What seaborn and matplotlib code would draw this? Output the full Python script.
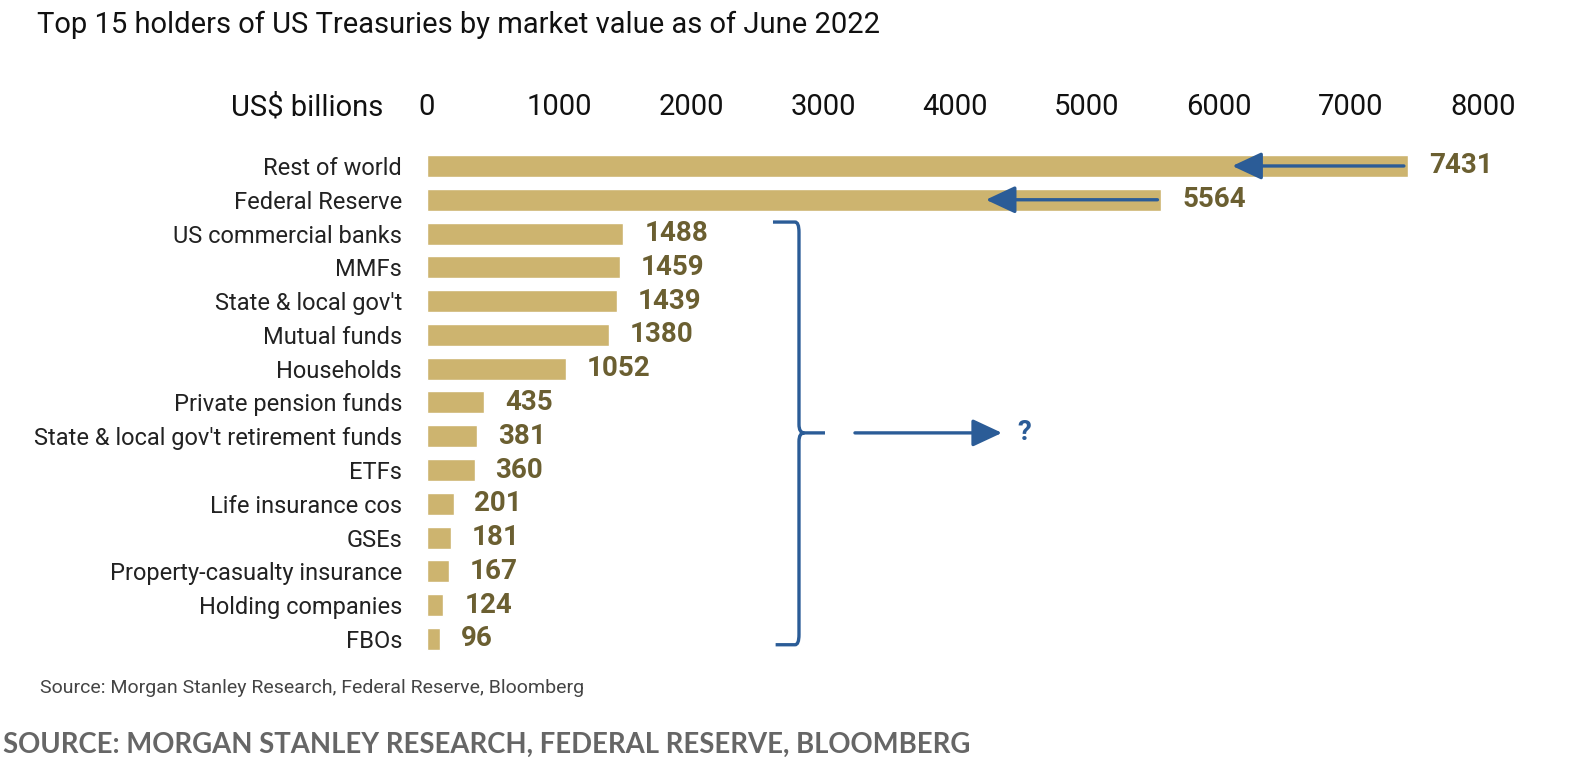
import numpy as np
import pandas as pd
import matplotlib
matplotlib.use("Agg")
import matplotlib.pyplot as plt
import seaborn as sns
from matplotlib.path import Path
from matplotlib.patches import PathPatch

holders = ["Rest of world", "Federal Reserve", "US commercial banks", "MMFs",
           "State & local gov't", "Mutual funds", "Households",
           "Private pension funds", "State & local gov't retirement funds",
           "ETFs", "Life insurance cos", "GSEs", "Property-casualty insurance",
           "Holding companies", "FBOs"]
values = [7431, 5564, 1488, 1459, 1439, 1380, 1052, 435, 381, 360, 201, 181, 167, 124, 96]
x_ticks = [0, 1000, 2000, 3000, 4000, 5000, 6000, 7000, 8000]

BAR = "#cdb46f"
VAL = "#6b5f31"
BLUE = "#2b5c97"
ARROW = "-|>,head_length=1.5,head_width=0.7"

sns.set_theme(style="white")
plt.rcParams["font.family"] = ["Roboto", "DejaVu Sans"]

df = pd.DataFrame({"holder": holders, "value": values})

fig = plt.figure(figsize=(15.84, 7.7), dpi=100)
ax = fig.add_axes([0.2696, 0.1482, 0.9362 - 0.2696, 0.8064 - 0.1482])

sns.barplot(data=df, x="value", y="holder", orient="h", color=BAR,
            saturation=1, width=0.65, ax=ax)

ax.set_xlim(0, 8000)
ax.set_ylim(len(holders) - 0.5, -0.5)
ax.xaxis.tick_top()
ax.set_xticks(x_ticks)
ax.set_xticklabels([str(t) for t in x_ticks])
ax.tick_params(axis="x", length=0, pad=20, labelsize=21, labelcolor="#111111")
ax.tick_params(axis="y", length=0, pad=18, labelsize=17, labelcolor="#222222")
ax.set_xlabel("")
ax.set_ylabel("")
for s in ax.spines.values():
    s.set_visible(False)

ax.bar_label(ax.containers[0], labels=[str(v) for v in values], padding=15,
             fontsize=20, fontweight="bold", color=VAL)

# arrows pointing back along the two largest bars
for i in range(2):
    ax.annotate("", xy=(values[i] - 1330, i), xytext=(values[i] - 30, i),
                arrowprops=dict(arrowstyle=ARROW, color=BLUE, lw=2.4,
                                shrinkA=0, shrinkB=0))

# brace around the remaining holders
bx, left, nub = 2818, 2621, 3015
top, bot, mid = 1.66, 14.17, 7.9
verts = [(left, top), (bx - 30, top), (bx, top), (bx, top + 0.3),
         (bx, mid - 0.25), (bx, mid), (bx + 40, mid), (nub, mid),
         (bx + 40, mid), (bx, mid), (bx, mid + 0.25),
         (bx, bot - 0.3), (bx, bot), (bx - 30, bot), (left + 20, bot)]
codes = [Path.MOVETO, Path.LINETO, Path.CURVE3, Path.CURVE3,
         Path.LINETO, Path.CURVE3, Path.CURVE3, Path.LINETO,
         Path.MOVETO, Path.CURVE3, Path.CURVE3,
         Path.LINETO, Path.CURVE3, Path.CURVE3, Path.LINETO]
ax.add_patch(PathPatch(Path(verts, codes), fill=False, edgecolor=BLUE, lw=2.4,
                       clip_on=False))

ax.annotate("", xy=(4356, mid), xytext=(3242, mid),
            arrowprops=dict(arrowstyle=ARROW, color=BLUE, lw=2.4,
                            shrinkA=0, shrinkB=0))
ax.text(4470, mid, "?", ha="left", va="center", fontsize=20,
        fontweight="bold", color=BLUE)

fig.text(383 / 1584, 1 - 115 / 770, "US$ billions", ha="right", va="baseline",
         fontsize=21, color="#111111")
fig.text(37 / 1584, 1 - 33 / 770, "Top 15 holders of US Treasuries by market value as of June 2022",
         ha="left", va="baseline", fontsize=21, color="#111111")
fig.text(40 / 1584, 1 - 693 / 770, "Source: Morgan Stanley Research, Federal Reserve, Bloomberg",
         ha="left", va="baseline", fontsize=14, color="#444444")
fig.text(3 / 1584, 1 - 753 / 770, "SOURCE: MORGAN STANLEY RESEARCH, FEDERAL RESERVE, BLOOMBERG",
         ha="left", va="baseline", fontsize=19.8, fontweight="bold", color="#666666",
         family=["Lato", "DejaVu Sans"])

fig.savefig("out.png", dpi=100, facecolor="white")
